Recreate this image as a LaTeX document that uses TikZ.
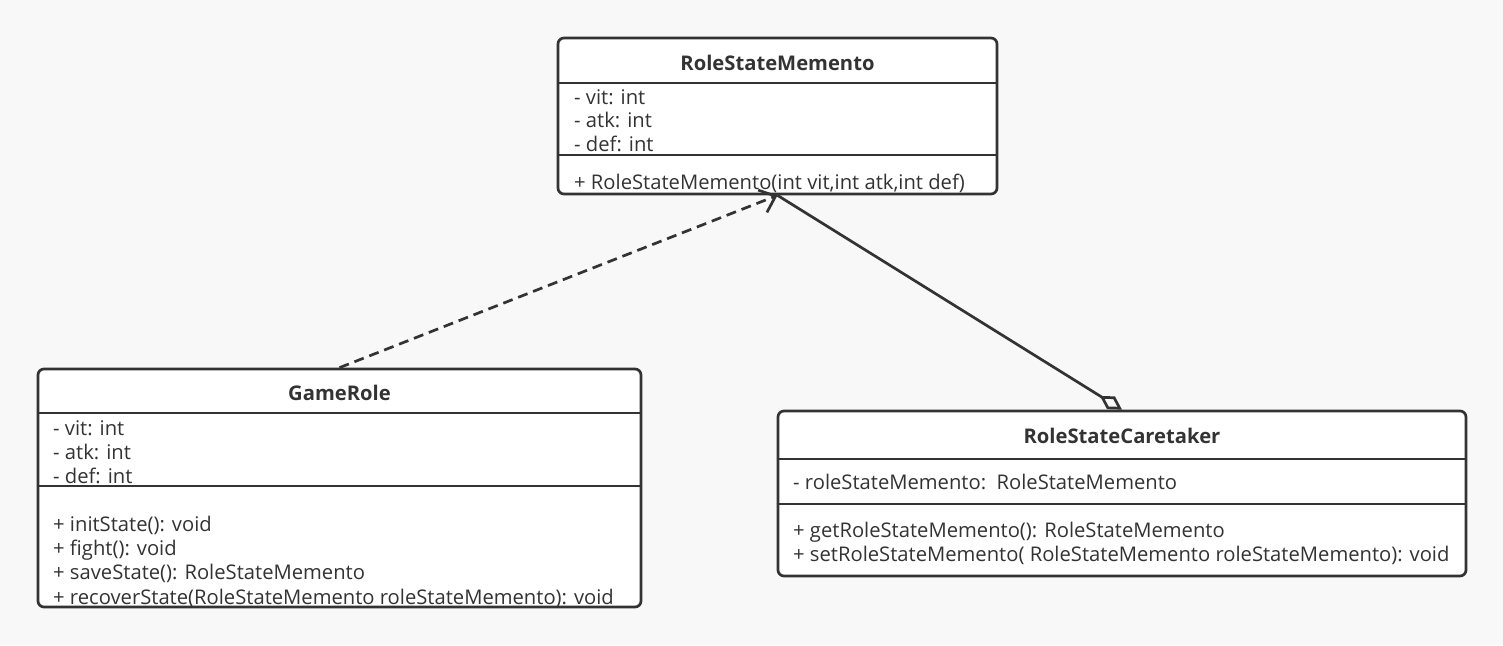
\documentclass[tikz,border=0pt]{standalone}
\usepackage{fontspec}
\setmainfont{Open Sans}
\usepackage{xcolor}
\usepackage{tikz}
\usetikzlibrary{arrows.meta}
\definecolor{umlgray}{HTML}{333333}
\definecolor{umlbg}{HTML}{F8F8F8}

\begin{document}
\begin{tikzpicture}[x=1pt, y=-1pt,
    box/.style={draw=umlgray, line width=2.7pt, fill=white, rounded corners=6pt, inner sep=0pt},
    classname/.style={font=\fontsize{20.2}{24}\selectfont\bfseries, text=umlgray, inner sep=0pt, text height=14pt, text depth=0pt},
    member/.style={anchor=west, font=\fontsize{20.2}{24}\selectfont, text=umlgray, inner sep=0pt, text height=14pt, text depth=0pt},
    divider/.style={draw=umlgray, line width=2.7pt}]
            \fill [umlbg] (0,0) rectangle (1503,645);
            \node [box, minimum width=439pt, minimum height=156pt] (memo) at (777.5,116) {};
            \node [classname] (memoname) at (777.5,63.5) {RoleStateMemento};
            \draw [divider] (memo.west |- 0,83) -- (memo.east |- 0,83);
            \draw [divider] (memo.west |- 0,155) -- (memo.east |- 0,155);
            \node [member] (memovit) at (574,97) {- vit: int};
            \node [member] (memoatk) at (574,120) {- atk: int};
            \node [member] (memodef) at (574,144) {- def: int};
            \node [member] (memoinit) at (574,182) {+ RoleStateMemento(int vit,int atk,int def)};
            \node [box, minimum width=603pt, minimum height=238pt] (game) at (339.5,488) {};
            \node [classname] (gamename) at (339.5,393.5) {GameRole};
            \draw [divider] (game.west |- 0,413) -- (game.east |- 0,413);
            \draw [divider] (game.west |- 0,486) -- (game.east |- 0,486);
            \node [member] (gamevit) at (53,428) {- vit: int};
            \node [member] (gameatk) at (53,452) {- atk: int};
            \node [member] (gamedef) at (53,476) {- def: int};
            \node [member] (gameinit) at (53,524) {+ initState(): void};
            \node [member] (gamefight) at (53,548) {+ fight(): void};
            \node [member] (gamesave) at (53,572) {+ saveState(): RoleStateMemento};
            \node [member] (gamerecover) at (53,597) {+ recoverState(RoleStateMemento roleStateMemento): void};
            \node [box, minimum width=688pt, minimum height=165pt] (care) at (1122,493.5) {};
            \node [classname] (carename) at (1122,436.5) {RoleStateCaretaker};
            \draw [divider] (care.west |- 0,459) -- (care.east |- 0,459);
            \draw [divider] (care.west |- 0,504) -- (care.east |- 0,504);
            \node [member] (carememo) at (793,482) {- roleStateMemento:\ \ RoleStateMemento};
            \node [member] (careget) at (793,530) {+ getRoleStateMemento(): RoleStateMemento};
            \node [member] (careset) at (793,554) {+ setRoleStateMemento( RoleStateMemento roleStateMemento): void};
            \draw [umlgray, line width=2.7pt, dash pattern=on 10pt off 6pt, -{Straight Barb[length=14pt, width=24pt]}] (game.north) -- (memo.south);
            \draw [umlgray, line width=2.7pt, -{Diamond[open, length=26pt, width=15pt]}] (memo.south) -- (care.north);
        \end{tikzpicture}
\end{document}
